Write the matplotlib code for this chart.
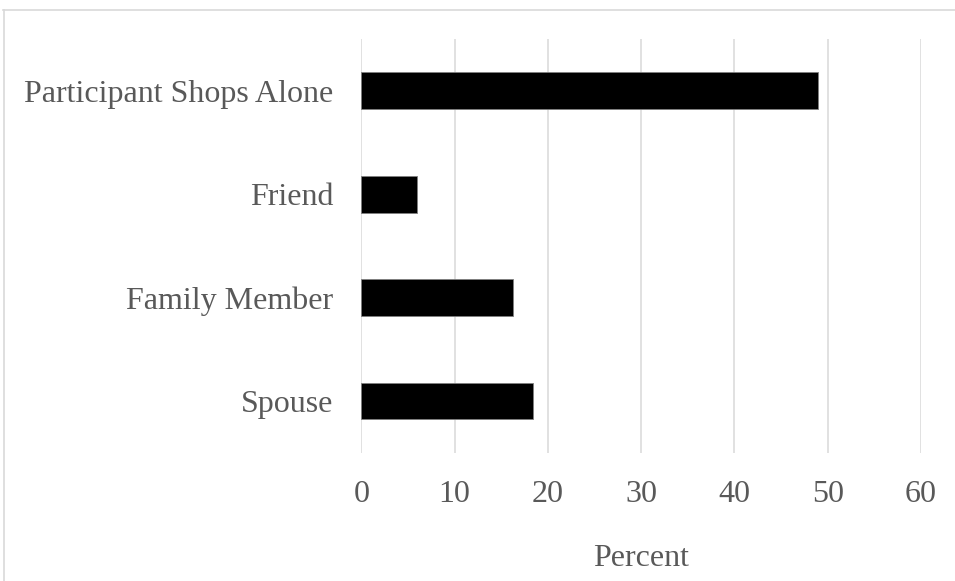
import matplotlib
matplotlib.use("Agg")
import matplotlib.pyplot as plt
from matplotlib.lines import Line2D

categories = ["Participant Shops Alone", "Friend", "Family Member", "Spouse"]
values = [49.0, 6.0, 16.3, 18.4]
x_ticks = [0, 10, 20, 30, 40, 50, 60]
x_label = "Percent"

plt.rcParams['font.family'] = ['Liberation Serif', 'DejaVu Serif']

fig = plt.figure(figsize=(9.55, 5.81), dpi=100)
ax = fig.add_axes([0.3783, 0.2208, 0.5861, 0.7121])

ypos = list(range(len(categories)))
ax.barh(ypos, values, height=0.357, color='black', edgecolor='#7f7f7f', linewidth=0.6, zorder=3)
ax.set_ylim(len(categories) - 0.5, -0.5)
ax.set_yticks(ypos)
ax.set_yticklabels(categories)
ax.set_xlim(0, 60)
ax.set_xticks(x_ticks)
ax.set_xticklabels([str(t) for t in x_ticks])
ax.grid(axis='x', color='#d9d9d9', linewidth=1.1, zorder=0)
ax.grid(axis='y', visible=False)
for s in ax.spines.values():
    s.set_visible(False)
ax.tick_params(axis='both', length=0, labelsize=23, labelcolor='#595959')
ax.tick_params(axis='y', pad=20)
ax.tick_params(axis='x', pad=20)
ax.set_xlabel(x_label, fontsize=23, color='#595959', labelpad=25)

# chart area border (top and left visible)
fig.add_artist(Line2D([0.003, 1.0], [1 - 9.5 / 581, 1 - 9.5 / 581], transform=fig.transFigure, color='#d9d9d9', linewidth=1.2))
fig.add_artist(Line2D([3.5 / 955, 3.5 / 955], [0, 1 - 9.5 / 581], transform=fig.transFigure, color='#d9d9d9', linewidth=1.2))

fig.savefig("out.png", dpi=100, facecolor='white')
